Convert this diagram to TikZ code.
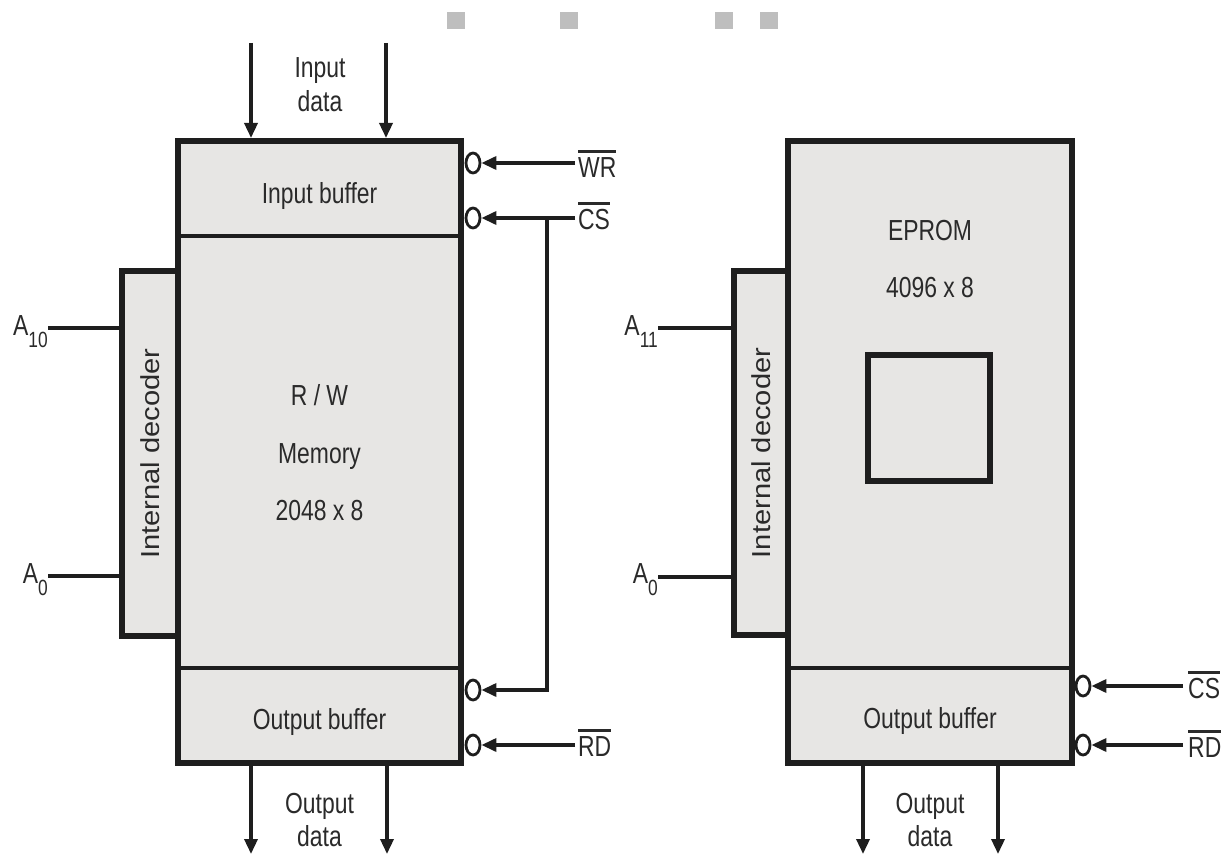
\documentclass[tikz,border=0pt]{standalone}
\usepackage{fontspec}
\setmainfont{Liberation Sans}[FakeStretch=0.79]
\newfontfamily\decfont{Liberation Sans}[FakeStretch=1.12]
\usetikzlibrary{arrows.meta,shapes.geometric}
\definecolor{linec}{HTML}{1E1E1E}
\definecolor{textc}{HTML}{2A2A2A}
\definecolor{chipfill}{HTML}{E7E6E4}
\definecolor{sqc}{HTML}{BEBEBE}
\tikzset{
 chip/.style={rectangle, draw=linec, line width=6pt, fill=chipfill, inner sep=0pt},
 cellbox/.style={rectangle, draw=linec, line width=6pt, inner sep=0pt},
 divline/.style={draw=linec, line width=4pt},
 sig/.style={draw=linec, line width=3.4pt},
 arr/.style={sig, -{Triangle[length=15pt,width=13pt]}},
 bub/.style={ellipse, draw=linec, line width=2.8pt, fill=white, minimum width=14pt, minimum height=20pt, inner sep=0pt},
 txt/.style={text=textc, font=\fontsize{29}{34}\selectfont, inner sep=0pt, anchor=base},
 sl/.style={txt, anchor=base west},
 al/.style={txt, anchor=base east},
 dectxt/.style={text=textc, font=\decfont\fontsize{26}{30}\selectfont, inner sep=0pt, rotate=90},
 sqbox/.style={fill=sqc, draw=none, minimum width=18pt, minimum height=17pt, inner sep=0pt, anchor=north west}
}
\newcommand{\ovl}[1]{\setbox0\hbox{#1}\rlap{\raisebox{24pt}{\rule{\wd0}{3pt}}}\box0}
\newcommand{\subA}[1]{A\raisebox{-12pt}{\fontsize{22}{22}\selectfont #1}}
\begin{document}
\begin{tikzpicture}[x=1pt,y=-1pt]
\path[use as bounding box] (0,0) rectangle (1225,856);
% grey squares
\node[sqbox] (sq1) at (447,12) {};
\node[sqbox] (sq2) at (560,12) {};
\node[sqbox] (sq3) at (715,12) {};
\node[sqbox] (sq4) at (760,12) {};

% ===== left chip =====
\node[chip, minimum width=56pt, minimum height=365pt] (Ldec) at (150,453.5) {};
\node[chip, minimum width=283pt, minimum height=622pt] (L) at (319.5,452) {};
\draw[divline] (178,236) -- (461,236);
\draw[divline] (178,668) -- (461,668);
\node[txt] (Lib) at (319.5,203) {Input buffer};
\node[txt] (Lrw) at (319.5,405) {R / W};
\node[txt] (Lmem) at (319.5,463) {Memory};
\node[txt] (Lsz) at (319.5,520) {2048 x 8};
\node[txt] (Lob) at (319.5,729) {Output buffer};
\node[dectxt] (Ldect) at (Ldec.center) {Internal decoder};

% address lines
\coordinate (pA10) at (48,328);
\coordinate (pA0L) at (48,576);
\node[al] (A10) at ([yshift=-7pt]pA10) {\subA{10}};
\node[al] (A0L) at ([yshift=-7pt]pA0L) {\subA{0}};
\draw[sig] (pA10) -- (pA10 -| Ldec.west);
\draw[sig] (pA0L) -- (pA0L -| Ldec.west);

% data arrows
\coordinate (in1) at (251,43);
\coordinate (in2) at (386,43);
\draw[arr] (in1) -- (in1 |- L.north);
\draw[arr] (in2) -- (in2 |- L.north);
\node[txt] (Lin1) at (320,78) {Input};
\node[txt] (Lin2) at (320,112) {data};
\coordinate (out1) at (251,854);
\coordinate (out2) at (387,854);
\draw[arr] (out1 |- L.south) -- (out1);
\draw[arr] (out2 |- L.south) -- (out2);
\node[txt] (Lout1) at (319.5,813) {Output};
\node[txt] (Lout2) at (319.5,846) {data};

% control signals
\node[bub] (bWR) at (473,163) {};
\node[bub] (bCS) at (473,218) {};
\node[bub] (bCS2) at (473,690) {};
\node[bub] (bRD) at (473,745) {};
\coordinate (sWR) at (575,163);
\coordinate (sCS) at (575,218);
\coordinate (sRD) at (575,745);
\coordinate (jL) at (547,218);
\node[sl] (WR) at (578,177) {\ovl{WR}};
\node[sl] (CS) at (578,229) {\ovl{CS}};
\node[sl] (RD) at (578,756) {\ovl{RD}};
\draw[arr] (sWR) -- (bWR.east);
\draw[arr] (sCS) -- (bCS.east);
\draw[arr] (jL) |- (bCS2.east);
\draw[arr] (sRD) -- (bRD.east);

% ===== right chip =====
\node[chip, minimum width=54pt, minimum height=364pt] (Rdec) at (761,453) {};
\node[chip, minimum width=284pt, minimum height=622pt] (R) at (930,452) {};
\draw[divline] (788,668) -- (1072,668);
\node[cellbox, minimum width=122pt, minimum height=126pt] (cell) at (929,418) {};
\node[txt] (Rep) at (930,240) {EPROM};
\node[txt] (Rsz) at (930,297) {4096 x 8};
\node[txt] (Rob) at (930,728) {Output buffer};
\node[dectxt] (Rdect) at (Rdec.center) {Internal decoder};

\coordinate (pA11) at (658,328);
\coordinate (pA0R) at (658,577);
\node[al] (A11) at ([yshift=-7pt]pA11) {\subA{11}};
\node[al] (A0R) at ([yshift=-6pt]pA0R) {\subA{0}};
\draw[sig] (pA11) -- (pA11 -| Rdec.west);
\draw[sig] (pA0R) -- (pA0R -| Rdec.west);

\coordinate (rout1) at (863,854);
\coordinate (rout2) at (998,854);
\draw[arr] (rout1 |- R.south) -- (rout1);
\draw[arr] (rout2 |- R.south) -- (rout2);
\node[txt] (Rout1) at (930,813) {Output};
\node[txt] (Rout2) at (930,846) {data};

\node[bub] (rbCS) at (1083,686) {};
\node[bub] (rbRD) at (1083,745) {};
\coordinate (rsCS) at (1183,686);
\coordinate (rsRD) at (1183,745);
\node[sl] (RCS) at (1188,698) {\ovl{CS}};
\node[sl] (RRD) at (1188,757) {\ovl{RD}};
\draw[arr] (rsCS) -- (rbCS.east);
\draw[arr] (rsRD) -- (rbRD.east);
\end{tikzpicture}
\end{document}
